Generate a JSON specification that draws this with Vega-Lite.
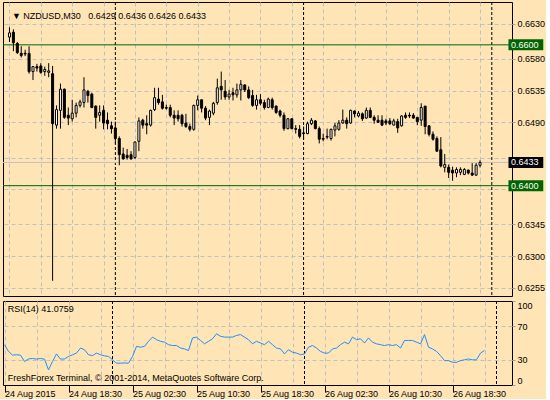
{
  "$schema": "https://vega.github.io/schema/vega-lite/v6.json",
  "background": "#FFE4B5",
  "padding": {"left": 2, "top": 1, "right": 0, "bottom": 0},
  "spacing": 3,
  "config": {
    "view": {"stroke": "black", "strokeWidth": 1},
    "axis": {"labelFont": "Liberation Sans", "labelFontSize": 9, "labelColor": "black", "domain": false, "title": null, "zindex": 0, "gridColor": "#C0C0C0", "gridDash": [4, 3]},
    "text": {"font": "Liberation Sans"}
  },
  "datasets": {
    "seps": [{"i": 27}, {"i": 75}, {"i": 123}],
    "hlines": [{"p": 0.66, "kind": "line"}, {"p": 0.64, "kind": "line"}, {"p": 0.6433, "kind": "bid"}],
    "bars": [
      {"i":0,"o":0.6611,"h":0.6625,"l":0.6604,"c":0.6617,"r":47.9},
      {"i":1,"o":0.6618,"h":0.6622,"l":0.6591,"c":0.6603,"r":40},
      {"i":2,"o":0.6602,"h":0.6604,"l":0.6587,"c":0.6589,"r":35.6},
      {"i":3,"o":0.6588,"h":0.6598,"l":0.6582,"c":0.6585,"r":36},
      {"i":4,"o":0.6588,"h":0.6593,"l":0.6584,"c":0.6587,"r":35.6},
      {"i":5,"o":0.6588,"h":0.6598,"l":0.6559,"c":0.6562,"r":28},
      {"i":6,"o":0.6562,"h":0.6570,"l":0.6550,"c":0.6569,"r":31},
      {"i":7,"o":0.6569,"h":0.6573,"l":0.6562,"c":0.6567,"r":31.6},
      {"i":8,"o":0.6570,"h":0.6574,"l":0.6559,"c":0.6561,"r":30.8},
      {"i":9,"o":0.6562,"h":0.6569,"l":0.6556,"c":0.6565,"r":31.6},
      {"i":10,"o":0.6561,"h":0.6574,"l":0.6554,"c":0.6563,"r":30.8},
      {"i":11,"o":0.6559,"h":0.6570,"l":0.6265,"c":0.6488,"r":18},
      {"i":12,"o":0.6486,"h":0.6514,"l":0.6481,"c":0.6508,"r":28},
      {"i":13,"o":0.6507,"h":0.6545,"l":0.6481,"c":0.6537,"r":37},
      {"i":14,"o":0.6537,"h":0.6538,"l":0.6495,"c":0.6497,"r":30.8},
      {"i":15,"o":0.6500,"h":0.6511,"l":0.6486,"c":0.6496,"r":31},
      {"i":16,"o":0.6495,"h":0.6522,"l":0.6491,"c":0.6503,"r":34},
      {"i":17,"o":0.6503,"h":0.6518,"l":0.6497,"c":0.6514,"r":36},
      {"i":18,"o":0.6514,"h":0.6522,"l":0.6511,"c":0.6519,"r":38},
      {"i":19,"o":0.6518,"h":0.6554,"l":0.6511,"c":0.6536,"r":44},
      {"i":20,"o":0.6534,"h":0.6536,"l":0.6518,"c":0.6528,"r":42},
      {"i":21,"o":0.6530,"h":0.6532,"l":0.6510,"c":0.6511,"r":36},
      {"i":22,"o":0.6513,"h":0.6514,"l":0.6481,"c":0.6497,"r":35},
      {"i":23,"o":0.6500,"h":0.6514,"l":0.6491,"c":0.6504,"r":38},
      {"i":24,"o":0.6507,"h":0.6514,"l":0.6480,"c":0.6489,"r":36},
      {"i":25,"o":0.6493,"h":0.6504,"l":0.6480,"c":0.6488,"r":34.7},
      {"i":26,"o":0.6485,"h":0.6491,"l":0.6474,"c":0.6481,"r":34},
      {"i":27,"o":0.6482,"h":0.6491,"l":0.6460,"c":0.6467,"r":30},
      {"i":28,"o":0.6467,"h":0.6470,"l":0.6429,"c":0.6444,"r":26},
      {"i":29,"o":0.6445,"h":0.6454,"l":0.6437,"c":0.6438,"r":26},
      {"i":30,"o":0.6443,"h":0.6452,"l":0.6437,"c":0.6440,"r":26.3},
      {"i":31,"o":0.6444,"h":0.6449,"l":0.6437,"c":0.6438,"r":26},
      {"i":32,"o":0.6440,"h":0.6463,"l":0.6438,"c":0.6462,"r":34},
      {"i":33,"o":0.6463,"h":0.6497,"l":0.6449,"c":0.6492,"r":46},
      {"i":34,"o":0.6493,"h":0.6495,"l":0.6481,"c":0.6486,"r":45},
      {"i":35,"o":0.6488,"h":0.6500,"l":0.6473,"c":0.6486,"r":46},
      {"i":36,"o":0.6486,"h":0.6508,"l":0.6484,"c":0.6507,"r":52},
      {"i":37,"o":0.6508,"h":0.6539,"l":0.6506,"c":0.6525,"r":57},
      {"i":38,"o":0.6523,"h":0.6539,"l":0.6515,"c":0.6518,"r":54},
      {"i":39,"o":0.6519,"h":0.6529,"l":0.6508,"c":0.6510,"r":52},
      {"i":40,"o":0.6511,"h":0.6515,"l":0.6508,"c":0.6510,"r":51},
      {"i":41,"o":0.6511,"h":0.6515,"l":0.6497,"c":0.6500,"r":48},
      {"i":42,"o":0.6500,"h":0.6507,"l":0.6486,"c":0.6496,"r":47},
      {"i":43,"o":0.6500,"h":0.6507,"l":0.6491,"c":0.6495,"r":47},
      {"i":44,"o":0.6500,"h":0.6502,"l":0.6484,"c":0.6488,"r":44},
      {"i":45,"o":0.6489,"h":0.6502,"l":0.6482,"c":0.6484,"r":43},
      {"i":46,"o":0.6484,"h":0.6488,"l":0.6477,"c":0.6480,"r":41},
      {"i":47,"o":0.6480,"h":0.6515,"l":0.6478,"c":0.6514,"r":56},
      {"i":48,"o":0.6514,"h":0.6528,"l":0.6507,"c":0.6522,"r":57},
      {"i":49,"o":0.6522,"h":0.6522,"l":0.6504,"c":0.6510,"r":53},
      {"i":50,"o":0.6510,"h":0.6513,"l":0.6493,"c":0.6496,"r":49},
      {"i":51,"o":0.6497,"h":0.6508,"l":0.6486,"c":0.6506,"r":52},
      {"i":52,"o":0.6503,"h":0.6519,"l":0.6500,"c":0.6517,"r":55},
      {"i":53,"o":0.6518,"h":0.6552,"l":0.6515,"c":0.6539,"r":61},
      {"i":54,"o":0.6541,"h":0.6562,"l":0.6522,"c":0.6536,"r":58},
      {"i":55,"o":0.6534,"h":0.6550,"l":0.6522,"c":0.6526,"r":57},
      {"i":56,"o":0.6526,"h":0.6536,"l":0.6522,"c":0.6530,"r":57},
      {"i":57,"o":0.6532,"h":0.6539,"l":0.6521,"c":0.6529,"r":57},
      {"i":58,"o":0.6529,"h":0.6545,"l":0.6525,"c":0.6536,"r":59},
      {"i":59,"o":0.6536,"h":0.6550,"l":0.6521,"c":0.6544,"r":60},
      {"i":60,"o":0.6543,"h":0.6544,"l":0.6533,"c":0.6536,"r":57},
      {"i":61,"o":0.6536,"h":0.6541,"l":0.6523,"c":0.6525,"r":54},
      {"i":62,"o":0.6528,"h":0.6536,"l":0.6512,"c":0.6514,"r":49},
      {"i":63,"o":0.6514,"h":0.6529,"l":0.6508,"c":0.6522,"r":52},
      {"i":64,"o":0.6522,"h":0.6530,"l":0.6514,"c":0.6517,"r":50},
      {"i":65,"o":0.6518,"h":0.6522,"l":0.6508,"c":0.6511,"r":48},
      {"i":66,"o":0.6511,"h":0.6525,"l":0.6510,"c":0.6523,"r":52},
      {"i":67,"o":0.6522,"h":0.6525,"l":0.6508,"c":0.6511,"r":48},
      {"i":68,"o":0.6513,"h":0.6514,"l":0.6502,"c":0.6504,"r":44},
      {"i":69,"o":0.6506,"h":0.6508,"l":0.6497,"c":0.6500,"r":43},
      {"i":70,"o":0.6500,"h":0.6504,"l":0.6478,"c":0.6481,"r":37},
      {"i":71,"o":0.6481,"h":0.6496,"l":0.6480,"c":0.6495,"r":42},
      {"i":72,"o":0.6495,"h":0.6496,"l":0.6480,"c":0.6481,"r":39},
      {"i":73,"o":0.6481,"h":0.6486,"l":0.6474,"c":0.6480,"r":38},
      {"i":74,"o":0.6480,"h":0.6486,"l":0.6467,"c":0.6470,"r":36},
      {"i":75,"o":0.6475,"h":0.6484,"l":0.6466,"c":0.6474,"r":37},
      {"i":76,"o":0.6474,"h":0.6491,"l":0.6473,"c":0.6488,"r":45},
      {"i":77,"o":0.6488,"h":0.6496,"l":0.6486,"c":0.6493,"r":47},
      {"i":78,"o":0.6492,"h":0.6493,"l":0.6480,"c":0.6481,"r":44},
      {"i":79,"o":0.6481,"h":0.6484,"l":0.6460,"c":0.6466,"r":40},
      {"i":80,"o":0.6467,"h":0.6474,"l":0.6463,"c":0.6466,"r":38},
      {"i":81,"o":0.6470,"h":0.6481,"l":0.6466,"c":0.6469,"r":38},
      {"i":82,"o":0.6467,"h":0.6481,"l":0.6464,"c":0.6480,"r":43},
      {"i":83,"o":0.6479,"h":0.6489,"l":0.6470,"c":0.6485,"r":44},
      {"i":84,"o":0.6480,"h":0.6493,"l":0.6478,"c":0.6489,"r":48},
      {"i":85,"o":0.6489,"h":0.6508,"l":0.6488,"c":0.6493,"r":51},
      {"i":86,"o":0.6493,"h":0.6497,"l":0.6481,"c":0.6488,"r":49},
      {"i":87,"o":0.6489,"h":0.6508,"l":0.6488,"c":0.6507,"r":57},
      {"i":88,"o":0.6506,"h":0.6507,"l":0.6497,"c":0.6502,"r":54},
      {"i":89,"o":0.6499,"h":0.6506,"l":0.6497,"c":0.6503,"r":55},
      {"i":90,"o":0.6502,"h":0.6504,"l":0.6492,"c":0.6495,"r":50},
      {"i":91,"o":0.6496,"h":0.6511,"l":0.6495,"c":0.6507,"r":56},
      {"i":92,"o":0.6507,"h":0.6511,"l":0.6496,"c":0.6497,"r":51},
      {"i":93,"o":0.6497,"h":0.6500,"l":0.6488,"c":0.6493,"r":49},
      {"i":94,"o":0.6493,"h":0.6500,"l":0.6489,"c":0.6490,"r":48},
      {"i":95,"o":0.6493,"h":0.6500,"l":0.6485,"c":0.6486,"r":47},
      {"i":96,"o":0.6492,"h":0.6495,"l":0.6486,"c":0.6489,"r":48},
      {"i":97,"o":0.6492,"h":0.6496,"l":0.6486,"c":0.6488,"r":47},
      {"i":98,"o":0.6486,"h":0.6495,"l":0.6486,"c":0.6492,"r":48},
      {"i":99,"o":0.6491,"h":0.6495,"l":0.6475,"c":0.6482,"r":44},
      {"i":100,"o":0.6485,"h":0.6500,"l":0.6484,"c":0.6499,"r":53},
      {"i":101,"o":0.6500,"h":0.6504,"l":0.6495,"c":0.6497,"r":53},
      {"i":102,"o":0.6500,"h":0.6504,"l":0.6496,"c":0.6499,"r":53},
      {"i":103,"o":0.6500,"h":0.6503,"l":0.6495,"c":0.6496,"r":51},
      {"i":104,"o":0.6497,"h":0.6497,"l":0.6486,"c":0.6491,"r":49},
      {"i":105,"o":0.6493,"h":0.6517,"l":0.6485,"c":0.6511,"r":60},
      {"i":106,"o":0.6513,"h":0.6513,"l":0.6473,"c":0.6484,"r":45},
      {"i":107,"o":0.6485,"h":0.6486,"l":0.6470,"c":0.6473,"r":43},
      {"i":108,"o":0.6473,"h":0.6477,"l":0.6464,"c":0.6466,"r":40},
      {"i":109,"o":0.6467,"h":0.6470,"l":0.6448,"c":0.6449,"r":35},
      {"i":110,"o":0.6451,"h":0.6469,"l":0.6426,"c":0.6428,"r":29},
      {"i":111,"o":0.6426,"h":0.6445,"l":0.6419,"c":0.6430,"r":29},
      {"i":112,"o":0.6426,"h":0.6430,"l":0.6411,"c":0.6419,"r":27},
      {"i":113,"o":0.6422,"h":0.6427,"l":0.6407,"c":0.6418,"r":27},
      {"i":114,"o":0.6418,"h":0.6426,"l":0.6412,"c":0.6423,"r":29},
      {"i":115,"o":0.6419,"h":0.6426,"l":0.6415,"c":0.6423,"r":30},
      {"i":116,"o":0.6416,"h":0.6425,"l":0.6415,"c":0.6423,"r":31},
      {"i":117,"o":0.6422,"h":0.6423,"l":0.6416,"c":0.6418,"r":30},
      {"i":118,"o":0.6418,"h":0.6432,"l":0.6414,"c":0.6415,"r":30},
      {"i":119,"o":0.6415,"h":0.6432,"l":0.6414,"c":0.6429,"r":38},
      {"i":120,"o":0.6429,"h":0.6436,"l":0.6426,"c":0.6433,"r":41.0759}
    ]
  },
  "vconcat": [
    {
      "width": 509,
      "height": 294,
      "layer": [
        {
          "data": {"name": "seps"},
          "mark": {"type": "rule", "color": "black", "strokeDash": [3, 2], "strokeWidth": 1},
          "encoding": {
            "x": {"field": "i", "type": "quantitative", "scale": {"domain": [-0.375, 126.875], "nice": false, "zero": false},
                  "axis": {"values": [0, 8, 16, 24, 32, 40, 48, 56, 64, 72, 80, 88, 96, 104, 112, 120], "labels": false, "ticks": false, "grid": true}}
          }
        },
        {
          "data": {"name": "hlines"},
          "mark": {"type": "rule", "strokeWidth": 1},
          "encoding": {
            "y": {"field": "p", "type": "quantitative", "scale": {"domain": [0.625044, 0.665373], "nice": false, "zero": false},
                  "axis": {"orient": "right", "values": [0.6255, 0.63, 0.6345, 0.6395, 0.644, 0.649, 0.6535, 0.658, 0.663], "format": ".4f", "labelExpr": "datum.value === 0.644 || datum.value === 0.6395 ? '' : datum.label", "grid": true, "tickColor": "#A0A0A0", "tickSize": 3, "labelPadding": 2}},
            "stroke": {"field": "kind", "type": "nominal", "scale": {"domain": ["line", "bid"], "range": ["#006400", "#C0C0C0"]}, "legend": null}
          }
        },
        {
          "data": {"name": "bars"},
          "mark": {"type": "rule", "color": "black", "strokeWidth": 1},
          "encoding": {
            "x": {"field": "i", "type": "quantitative", "scale": {"domain": [-0.375, 126.875], "nice": false, "zero": false},
                  "axis": {"values": [0, 8, 16, 24, 32, 40, 48, 56, 64, 72, 80, 88, 96, 104, 112, 120], "labels": false, "ticks": false, "grid": true}},
            "y": {"field": "l", "type": "quantitative", "scale": {"domain": [0.625044, 0.665373], "nice": false, "zero": false},
                  "axis": {"orient": "right", "values": [0.6255, 0.63, 0.6345, 0.6395, 0.644, 0.649, 0.6535, 0.658, 0.663], "format": ".4f", "labelExpr": "datum.value === 0.644 || datum.value === 0.6395 ? '' : datum.label", "grid": true, "tickColor": "#A0A0A0", "tickSize": 3, "labelPadding": 2}},
            "y2": {"field": "h"}
          }
        },
        {
          "data": {"name": "bars"},
          "mark": {"type": "bar", "width": 2, "stroke": "black", "strokeWidth": 1},
          "encoding": {
            "x": {"field": "i", "type": "quantitative", "scale": {"domain": [-0.375, 126.875], "nice": false, "zero": false},
                  "axis": {"values": [0, 8, 16, 24, 32, 40, 48, 56, 64, 72, 80, 88, 96, 104, 112, 120], "labels": false, "ticks": false, "grid": true}},
            "y": {"field": "o", "type": "quantitative", "scale": {"domain": [0.625044, 0.665373], "nice": false, "zero": false},
                  "axis": {"orient": "right", "values": [0.6255, 0.63, 0.6345, 0.6395, 0.644, 0.649, 0.6535, 0.658, 0.663], "format": ".4f", "labelExpr": "datum.value === 0.644 || datum.value === 0.6395 ? '' : datum.label", "grid": true, "tickColor": "#A0A0A0", "tickSize": 3, "labelPadding": 2}},
            "y2": {"field": "c"},
            "fill": {"condition": {"test": "datum.c >= datum.o", "value": "white"}, "value": "black"}
          }
        },
        {
          "data": {"values": [{}]},
          "mark": {"type": "text", "text": "▼  NZDUSD,M30\u00a0\u00a0 0.6429 0.6436 0.6426 0.6433", "align": "left", "baseline": "middle", "fontSize": 9, "color": "black"},
          "encoding": {
            "x": {"datum": 0.625, "type": "quantitative", "scale": {"domain": [-0.375, 126.875], "nice": false, "zero": false},
                  "axis": {"values": [0, 8, 16, 24, 32, 40, 48, 56, 64, 72, 80, 88, 96, 104, 112, 120], "labels": false, "ticks": false, "grid": true}},
            "y": {"datum": 0.66414, "type": "quantitative", "scale": {"domain": [0.625044, 0.665373], "nice": false, "zero": false},
                  "axis": {"orient": "right", "values": [0.6255, 0.63, 0.6345, 0.6395, 0.644, 0.649, 0.6535, 0.658, 0.663], "format": ".4f", "labelExpr": "datum.value === 0.644 || datum.value === 0.6395 ? '' : datum.label", "grid": true, "tickColor": "#A0A0A0", "tickSize": 3, "labelPadding": 2}}
          }
        },
        {
          "data": {"name": "hlines"},
          "mark": {"type": "bar", "height": 11},
          "encoding": {
            "x": {"datum": 127.25, "type": "quantitative", "scale": {"domain": [-0.375, 126.875], "nice": false, "zero": false},
                  "axis": {"values": [0, 8, 16, 24, 32, 40, 48, 56, 64, 72, 80, 88, 96, 104, 112, 120], "labels": false, "ticks": false, "grid": true}},
            "x2": {"datum": 136.125},
            "y": {"field": "p", "type": "quantitative", "scale": {"domain": [0.625044, 0.665373], "nice": false, "zero": false},
                  "axis": {"orient": "right", "values": [0.6255, 0.63, 0.6345, 0.6395, 0.644, 0.649, 0.6535, 0.658, 0.663], "format": ".4f", "labelExpr": "datum.value === 0.644 || datum.value === 0.6395 ? '' : datum.label", "grid": true, "tickColor": "#A0A0A0", "tickSize": 3, "labelPadding": 2}},
            "fill": {"field": "kind", "type": "nominal", "scale": {"domain": ["line", "bid"], "range": ["#006400", "#000000"]}, "legend": null}
          }
        },
        {
          "data": {"name": "hlines"},
          "mark": {"type": "text", "align": "left", "baseline": "middle", "fontSize": 9, "color": "white"},
          "encoding": {
            "x": {"datum": 127.875, "type": "quantitative", "scale": {"domain": [-0.375, 126.875], "nice": false, "zero": false},
                  "axis": {"values": [0, 8, 16, 24, 32, 40, 48, 56, 64, 72, 80, 88, 96, 104, 112, 120], "labels": false, "ticks": false, "grid": true}},
            "y": {"field": "p", "type": "quantitative", "scale": {"domain": [0.625044, 0.665373], "nice": false, "zero": false},
                  "axis": {"orient": "right", "values": [0.6255, 0.63, 0.6345, 0.6395, 0.644, 0.649, 0.6535, 0.658, 0.663], "format": ".4f", "labelExpr": "datum.value === 0.644 || datum.value === 0.6395 ? '' : datum.label", "grid": true, "tickColor": "#A0A0A0", "tickSize": 3, "labelPadding": 2}},
            "text": {"field": "p", "type": "quantitative", "format": ".4f"}
          }
        }
      ]
    },
    {
      "width": 509,
      "height": 84,
      "layer": [
        {
          "data": {"name": "seps"},
          "mark": {"type": "rule", "color": "black", "strokeDash": [3, 2], "strokeWidth": 1},
          "encoding": {
            "x": {"field": "i", "type": "quantitative", "scale": {"domain": [-0.375, 126.875], "nice": false, "zero": false},
                  "axis": {"values": [0, 8, 16, 24, 32, 40, 48, 56, 64, 72, 80, 88, 96, 104, 112, 120],
                           "labelExpr": "datum.value % 16 === 0 ? ['24 Aug 2015','24 Aug 18:30','25 Aug 02:30','25 Aug 10:30','25 Aug 18:30','26 Aug 02:30','26 Aug 10:30','26 Aug 18:30'][datum.value / 16] : ''",
                           "labelAlign": "left", "labelOverlap": false, "labelBound": false, "labelFlush": false,
                           "tickSize": 7, "labelPadding": -3, "tickColor": "black",
                           "tickOpacity": {"condition": {"test": "datum.value % 16 === 0", "value": 1}, "value": 0},
                           "grid": true}}
          }
        },
        {
          "data": {"name": "bars"},
          "mark": {"type": "line", "color": "#1E90FF", "strokeWidth": 1},
          "encoding": {
            "x": {"field": "i", "type": "quantitative", "scale": {"domain": [-0.375, 126.875], "nice": false, "zero": false},
                  "axis": {"values": [0, 8, 16, 24, 32, 40, 48, 56, 64, 72, 80, 88, 96, 104, 112, 120],
                           "labelExpr": "datum.value % 16 === 0 ? ['24 Aug 2015','24 Aug 18:30','25 Aug 02:30','25 Aug 10:30','25 Aug 18:30','26 Aug 02:30','26 Aug 10:30','26 Aug 18:30'][datum.value / 16] : ''",
                           "labelAlign": "left", "labelOverlap": false, "labelBound": false, "labelFlush": false,
                           "tickSize": 7, "labelPadding": -3, "tickColor": "black",
                           "tickOpacity": {"condition": {"test": "datum.value % 16 === 0", "value": 1}, "value": 0},
                           "grid": true}},
            "y": {"field": "r", "type": "quantitative", "scale": {"domain": [0, 100], "nice": false, "zero": false},
                  "axis": {"orient": "right", "values": [0, 30, 70, 100], "labelFlush": true, "grid": true,
                           "gridOpacity": {"condition": {"test": "datum.value === 30 || datum.value === 70", "value": 1}, "value": 0},
                           "tickColor": "#A0A0A0", "tickSize": 3, "labelPadding": 2}}
          }
        },
        {
          "data": {"values": [{}]},
          "mark": {"type": "text", "text": "RSI(14) 41.0759", "align": "left", "baseline": "middle", "fontSize": 9, "color": "black"},
          "encoding": {
            "x": {"datum": 0.8, "type": "quantitative", "scale": {"domain": [-0.375, 126.875], "nice": false, "zero": false},
                  "axis": {"values": [0, 8, 16, 24, 32, 40, 48, 56, 64, 72, 80, 88, 96, 104, 112, 120],
                           "labelExpr": "datum.value % 16 === 0 ? ['24 Aug 2015','24 Aug 18:30','25 Aug 02:30','25 Aug 10:30','25 Aug 18:30','26 Aug 02:30','26 Aug 10:30','26 Aug 18:30'][datum.value / 16] : ''",
                           "labelAlign": "left", "labelOverlap": false, "labelBound": false, "labelFlush": false,
                           "tickSize": 7, "labelPadding": -3, "tickColor": "black",
                           "tickOpacity": {"condition": {"test": "datum.value % 16 === 0", "value": 1}, "value": 0},
                           "grid": true}},
            "y": {"datum": 90.8, "type": "quantitative", "scale": {"domain": [0, 100], "nice": false, "zero": false},
                  "axis": {"orient": "right", "values": [0, 30, 70, 100], "labelFlush": true, "grid": true,
                           "gridOpacity": {"condition": {"test": "datum.value === 30 || datum.value === 70", "value": 1}, "value": 0},
                           "tickColor": "#A0A0A0", "tickSize": 3, "labelPadding": 2}}
          }
        },
        {
          "data": {"values": [{}]},
          "mark": {"type": "text", "text": "FreshForex Terminal, © 2001-2014, MetaQuotes Software Corp.", "align": "left", "baseline": "middle", "fontSize": 9, "color": "black"},
          "encoding": {
            "x": {"datum": 0.8, "type": "quantitative", "scale": {"domain": [-0.375, 126.875], "nice": false, "zero": false},
                  "axis": {"values": [0, 8, 16, 24, 32, 40, 48, 56, 64, 72, 80, 88, 96, 104, 112, 120],
                           "labelExpr": "datum.value % 16 === 0 ? ['24 Aug 2015','24 Aug 18:30','25 Aug 02:30','25 Aug 10:30','25 Aug 18:30','26 Aug 02:30','26 Aug 10:30','26 Aug 18:30'][datum.value / 16] : ''",
                           "labelAlign": "left", "labelOverlap": false, "labelBound": false, "labelFlush": false,
                           "tickSize": 7, "labelPadding": -3, "tickColor": "black",
                           "tickOpacity": {"condition": {"test": "datum.value % 16 === 0", "value": 1}, "value": 0},
                           "grid": true}},
            "y": {"datum": 8.3, "type": "quantitative", "scale": {"domain": [0, 100], "nice": false, "zero": false},
                  "axis": {"orient": "right", "values": [0, 30, 70, 100], "labelFlush": true, "grid": true,
                           "gridOpacity": {"condition": {"test": "datum.value === 30 || datum.value === 70", "value": 1}, "value": 0},
                           "tickColor": "#A0A0A0", "tickSize": 3, "labelPadding": 2}}
          }
        }
      ]
    }
  ]
}
